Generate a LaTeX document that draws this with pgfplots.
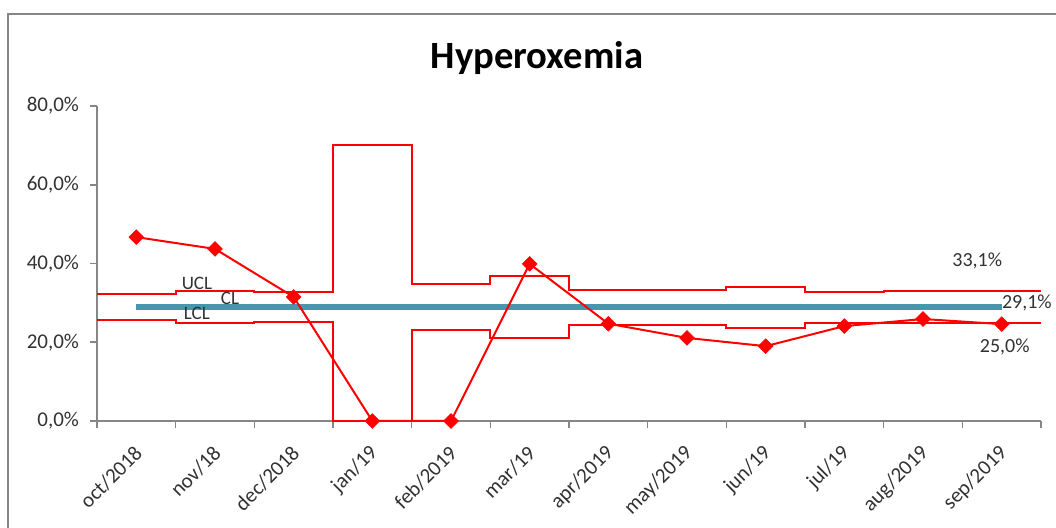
\documentclass[border=0pt]{standalone}
\usepackage{pgfplots}
\pgfplotsset{compat=1.18}
\usepackage{fontspec}
\setmainfont{Carlito}
\definecolor{axgray}{RGB}{134,134,134}
\definecolor{txtgray}{RGB}{50,50,50}
\definecolor{clteal}{RGB}{70,150,172}
\begin{document}
\begin{tikzpicture}[x=1pt,y=1pt]
\path[use as bounding box] (0,0) rectangle (528,264);
\draw[axgray, line width=1pt] (4,0) -- (4,257) -- (528,257);
\node[font=\fontsize{19.3}{22}\selectfont\bfseries, text=black] at (268.5,235) {Hyperoxemia};
\begin{axis}[
  at={(48.5pt,53.5pt)}, anchor=south west,
  scale only axis, width=472pt, height=157.5pt,
  xmin=0.5, xmax=12.5, ymin=0, ymax=80,
  axis x line*=bottom, axis y line*=left,
  axis line style={axgray, line width=1pt},
  clip=false,
  xtick={1,...,12},
  xticklabels={oct/2018,nov/18,dec/2018,jan/19,feb/2019,mar/19,apr/2019,may/2019,jun/19,jul/19,aug/2019,sep/2019},
  major x tick style={draw=none},
  minor xtick={0.5,1.5,...,12.5},
  minor tick length=3.5pt,
  tick align=outside,
  tick style={axgray, line width=0.8pt},
  ytick={0,20,40,60,80},
  major tick length=3.5pt,
  yticklabel={\pgfmathprintnumber[fixed,fixed zerofill,precision=1,use comma]{\tick}\%},
  /pgf/number format/assume math mode=true,
  ticklabel style={font=\fontsize{10.5}{12}\selectfont, text=txtgray},
  xticklabel style={xshift=3.6pt, yshift=-8.5pt, rotate=45, anchor=east},
  yticklabel style={xshift=-2pt},
  every axis plot/.append style={line join=miter},
]
\addplot[red, line width=1pt, const plot, mark=none] coordinates {
(0.5,32.3) (1.5,33.1) (2.5,32.8) (3.5,70.1) (4.5,34.8) (5.5,36.9) (6.5,33.3) (7.5,33.3) (8.5,34.1) (9.5,32.8) (10.5,33.0) (11.5,33.1) (12.5,33.1)};
\addplot[red, line width=1pt, const plot, mark=none] coordinates {
(0.5,25.7) (1.5,24.8) (2.5,25.1) (3.5,0) (4.5,23.1) (5.5,21.0) (6.5,24.5) (7.5,24.5) (8.5,23.7) (9.5,24.8) (10.5,24.9) (11.5,25.0) (12.5,25.0)};
\addplot[clteal, line width=3pt, mark=none] coordinates {(1,29.0) (12,29.0)};
\addplot[red, line width=1pt, mark=square*, mark size=2.6pt, mark options={rotate=45, solid, fill=red, draw=red, line width=0.3pt}] coordinates {
(1,46.7) (2,43.7) (3,31.5) (4,0) (5,0) (6,39.9) (7,24.7) (8,21.1) (9,19.0) (10,24.1) (11,25.9) (12,24.6)};
\node[font=\fontsize{9.5}{11}\selectfont, text=txtgray] at (axis cs:1.77,35.0) {UCL};
\node[font=\fontsize{9.5}{11}\selectfont, text=txtgray] at (axis cs:2.19,31.2) {CL};
\node[font=\fontsize{9.5}{11}\selectfont, text=txtgray] at (axis cs:1.77,27.2) {LCL};
\node[font=\fontsize{10}{12}\selectfont, text=txtgray] at (axis cs:11.69,40.6) {33,1\%};
\node[font=\fontsize{10}{12}\selectfont, text=txtgray, anchor=west, inner sep=0pt] at (axis cs:12.0,30.0) {29,1\%};
\node[font=\fontsize{10}{12}\selectfont, text=txtgray] at (axis cs:12.04,18.8) {25,0\%};
\end{axis}
\end{tikzpicture}
\end{document}
